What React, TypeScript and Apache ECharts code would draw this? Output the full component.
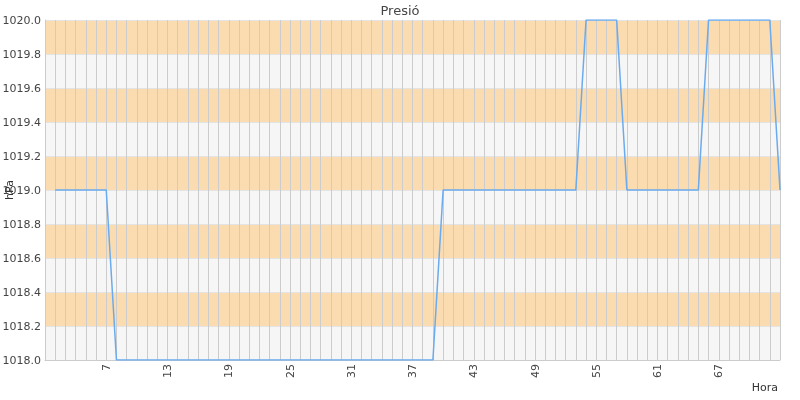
import React, { useEffect, useRef } from "react";
import * as echarts from "echarts";

const hours: string[] = [
  "1", "2", "3", "4", "5", "6", "7", "8", "9", "10",
  "11", "12", "13", "14", "15", "16", "17", "18", "19", "20",
  "21", "22", "23", "24", "25", "26", "27", "28", "29", "30",
  "31", "32", "33", "34", "35", "36", "37", "38", "39", "40",
  "41", "42", "43", "44", "45", "46", "47", "48", "49", "50",
  "51", "52", "53", "54", "55", "56", "57", "58", "59", "60",
  "61", "62", "63", "64", "65", "66", "67", "68", "69", "70",
  "71", "72", "73",
];

const pressure: (number | null)[] = [
  null, 1019, 1019, 1019, 1019, 1019, 1019, 1018, 1018, 1018,
  1018, 1018, 1018, 1018, 1018, 1018, 1018, 1018, 1018, 1018,
  1018, 1018, 1018, 1018, 1018, 1018, 1018, 1018, 1018, 1018,
  1018, 1018, 1018, 1018, 1018, 1018, 1018, 1018, 1018, 1019,
  1019, 1019, 1019, 1019, 1019, 1019, 1019, 1019, 1019, 1019,
  1019, 1019, 1019, 1020, 1020, 1020, 1020, 1019, 1019, 1019,
  1019, 1019, 1019, 1019, 1019, 1020, 1020, 1020, 1020, 1020,
  1020, 1020, 1019,
];

const title = "Presió";
const xName = "Hora";
const yName = "hPa";
const yMin = 1018;
const yMax = 1020;
const yStep = 0.2;

export default function App() {
  const ref = useRef<HTMLDivElement>(null);
  useEffect(() => {
    if (!ref.current) return;
    const chart = echarts.init(ref.current, undefined, { renderer: "svg" });
    const font = "DejaVu Sans";
    const last = hours.length - 1;
    chart.setOption({
      animation: false,
      title: {
        text: title,
        left: "center",
        top: -1,
        textStyle: { fontSize: 13, fontWeight: "normal", color: "#464646", fontFamily: font },
      },
      grid: {
        left: 45,
        right: 20,
        top: 20,
        bottom: 40,
        containLabel: false,
        outerBoundsMode: "none",
      },
      xAxis: {
        type: "category",
        data: hours,
        boundaryGap: false,
        name: xName,
        nameLocation: "end",
        nameGap: 0,
        nameMoveOverlap: false,
        nameTextStyle: {
          align: "right",
          verticalAlign: "top",
          padding: [22, 2, 0, 0],
          fontSize: 11,
          color: "#333",
          fontFamily: font,
        },
        axisLine: { lineStyle: { color: "#cccccc" } },
        axisTick: { show: false },
        axisLabel: {
          rotate: 90,
          interval: (index: number) => index > 0 && index < last && index % 6 === 0,
          fontSize: 11,
          color: "#444",
          fontFamily: font,
          margin: 4,
        },
        splitLine: { show: true, interval: 0, lineStyle: { color: "#cccccc", width: 1 } },
      },
      yAxis: {
        type: "value",
        min: yMin,
        max: yMax,
        interval: yStep,
        name: yName,
        nameLocation: "middle",
        nameGap: 30,
        nameMoveOverlap: false,
        nameTextStyle: { fontSize: 11, color: "#333", fontFamily: font },
        axisLine: { show: true, lineStyle: { color: "#cccccc" } },
        axisTick: { show: false },
        axisLabel: {
          formatter: (v: number) => v.toFixed(1),
          fontSize: 11,
          color: "#444",
          fontFamily: font,
          margin: 4,
        },
        splitLine: { show: true, lineStyle: { color: "#e4e4e4" } },
        splitArea: { show: true, areaStyle: { color: ["#f6f6f6", "#fbdcb0"] } },
      },
      series: [
        {
          type: "line",
          data: pressure,
          symbol: "none",
          lineStyle: { color: "#6aaaee", width: 1.5 },
          itemStyle: { color: "#6aaaee" },
        },
      ],
    });
    return () => chart.dispose();
  }, []);
  return (
    <div
      ref={ref}
      style={{ position: "fixed", left: 0, top: 0, width: 800, height: 400 }}
    />
  );
}
